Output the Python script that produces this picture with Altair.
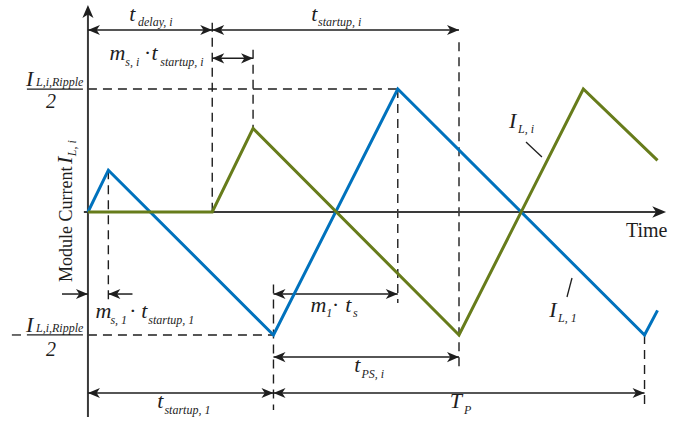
import altair as alt
import pandas as pd

# Normalised units: time in multiples of t_startup,1, current in multiples of I_L,i,Ripple/2
module1_t = [0.0, 0.11, 1.0, 1.67, 3.0, 3.07]
module1_i = [0.0, 0.34, -1.0, 1.0, -1.0, -0.80]
modulei_t = [0.0, 0.67, 0.89, 2.0, 2.67, 3.07]
modulei_i = [0.0, 0.0, 0.68, -1.0, 1.0, 0.42]

# characteristic instants and levels
t_ms1 = 0.11        # m_s,1 * t_startup,1
t_delay = 0.67      # t_delay,i
t_peak_i = 0.89     # t_delay,i + m_s,i * t_startup,i
t_su1 = 1.0         # t_startup,1
t_peak1 = 1.67      # t_startup,1 + m_1 * t_s
t_end_i = 2.0       # t_delay,i + t_startup,i
t_period = 3.0      # t_startup,1 + T_P
ripple = 1.0        # I_L,i,Ripple / 2

BLUE = "#0072BD"
GREEN = "#677C1B"
INK = "#1e1e1e"
AXIS = "#3a3a3a"
SERIF = "Liberation Serif"
BIG = 22
SUB = 12

XS = alt.Scale(domain=[-0.474, 3.272], nice=False, zero=False)
YS = alt.Scale(domain=[-1.724, 1.724], nice=False, zero=False)


def xy(xf, yf):
    return dict(x=alt.X(xf, type="quantitative", scale=XS, axis=None),
                y=alt.Y(yf, type="quantitative", scale=YS, axis=None))


def segments(rows, **mark):
    df = pd.DataFrame(rows, columns=["x0", "x1", "y0", "y1"])
    return alt.Chart(df).mark_rule(**mark).encode(**xy("x0", "y0"), x2="x1:Q", y2="y1:Q")


def wave(ts, vs, color):
    df = pd.DataFrame({"t": ts, "i": vs, "k": range(len(ts))})
    return alt.Chart(df).mark_line(strokeWidth=3, strokeJoin="miter", color=color).encode(
        **xy("t", "i"), order="k:Q")


# dashed guide lines
dashed = [
    (0, t_peak1, ripple, ripple),
    (0, t_su1, -ripple, -ripple),
    (t_ms1, t_ms1, 0.34, -0.73),
    (t_delay, t_delay, 1.54, 0),
    (t_peak_i, t_peak_i, 1.32, 0.68),
    (t_su1, t_su1, -0.59, -1.61),
    (t_peak1, t_peak1, ripple, -0.74),
    (t_end_i, t_end_i, 1.38, -1.26),
    (t_period, t_period, -ripple, -1.59),
]

# dimension arrows with heads on both ends
dims = [
    (0, t_delay, 1.48),
    (t_delay, t_end_i, 1.48),
    (t_delay, t_peak_i, 1.25),
    (t_su1, t_peak1, -0.667),
    (t_su1, t_end_i, -1.18),
    (0, t_su1, -1.472),
    (t_su1, t_period, -1.472),
]

HEAD_R = "M0,0L-2,-0.85L-1.45,0L-2,0.85Z"
HEAD_L = "M0,0L2,-0.85L1.45,0L2,0.85Z"
HEAD_U = "M0,0L-0.85,2L0,1.45L0.85,2Z"

arrow_lines = [(a, b, y, y) for a, b, y in dims]
heads = []
for a, b, y in dims:
    heads.append((a, y, HEAD_L, 144))
    heads.append((b, y, HEAD_R, 144))

# inward pointers for the m_s,1 interval
arrow_lines += [(-0.14, 0, -0.667, -0.667), (t_ms1, 0.24, -0.667, -0.667)]
heads += [(0, -0.667, HEAD_R, 144), (t_ms1, -0.667, HEAD_L, 144)]

# coordinate axes
axes_lines = [(0, 0, -1.667, 1.64), (-0.022, 3.09, 0, 0)]
heads += [(0, 1.683, HEAD_U, 170), (3.116, 0, HEAD_R, 190)]

# fraction bars, minus sign, leader lines
thin_lines = [
    (-0.329, -0.027, ripple, ripple),
    (-0.329, -0.027, -ripple, -ripple),
    (-0.410, -0.361, -ripple, -ripple),
    (2.361, 2.447, 0.569, 0.447),
    (2.609, 2.582, -0.537, -0.691),
]

# text: (text, t, y, fontSize, italic, angle)
labels = [
    ("t", 0.222, 1.553, BIG, True, 0), ("delay, i", 0.270, 1.512, SUB, True, 0),
    ("t", 1.204, 1.553, BIG, True, 0), ("startup, i", 1.240, 1.512, SUB, True, 0),
    ("m", 0.116, 1.236, BIG, True, 0), ("s, i", 0.201, 1.187, SUB, True, 0),
    ("·", 0.305, 1.236, BIG, True, 0), ("t", 0.343, 1.236, BIG, True, 0),
    ("startup, i", 0.390, 1.187, SUB, True, 0),
    ("I", -0.334, 1.024, BIG, True, 0), ("L,i,Ripple", -0.280, 1.024, SUB, True, 0),
    ("2", -0.226, 0.846, 20, True, 0),
    ("I", -0.334, -0.976, BIG, True, 0), ("L,i,Ripple", -0.280, -0.976, SUB, True, 0),
    ("2", -0.226, -1.171, 20, True, 0),
    ("Module Current", -0.086, -0.569, 18, False, 270),
    ("I", -0.086, 0.390, BIG, True, 270), ("L, i", -0.065, 0.453, SUB, True, 270),
    ("Time", 2.900, -0.203, 20, False, 0),
    ("I", 2.270, 0.683, BIG, True, 0), ("L, i", 2.318, 0.642, SUB, True, 0),
    ("I", 2.486, -0.854, BIG, True, 0), ("L, 1", 2.534, -0.894, SUB, True, 0),
    ("m", 0.041, -0.862, BIG, True, 0), ("s, 1", 0.121, -0.911, SUB, True, 0),
    ("·", 0.226, -0.862, BIG, True, 0), ("t", 0.287, -0.862, BIG, True, 0),
    ("startup, 1", 0.325, -0.911, SUB, True, 0),
    ("m", 1.200, -0.813, BIG, True, 0), ("1", 1.285, -0.854, SUB, True, 0),
    ("·", 1.318, -0.813, BIG, True, 0), ("t", 1.387, -0.813, BIG, True, 0),
    ("s", 1.429, -0.854, SUB, True, 0),
    ("t", 1.435, -1.301, BIG, True, 0), ("PS, i", 1.474, -1.350, SUB, True, 0),
    ("t", 0.373, -1.593, BIG, True, 0), ("startup, 1", 0.412, -1.642, SUB, True, 0),
    ("T", 1.950, -1.593, BIG, True, 0), ("P", 2.027, -1.642, SUB, True, 0),
]
lab = pd.DataFrame(labels, columns=["text", "t", "y", "size", "italic", "angle"])


def text_layer(df, style):
    return alt.Chart(df).mark_text(
        align="left", baseline="alphabetic", font=SERIF, fontStyle=style, color=INK
    ).encode(**xy("t", "y"), text="text:N",
             size=alt.Size("size:Q", scale=None),
             angle=alt.Angle("angle:Q", scale=None))


head_df = pd.DataFrame(heads, columns=["t", "y", "shape", "size"])
head_layer = alt.Chart(head_df).mark_point(
    filled=True, opacity=1, strokeWidth=0, color=INK
).encode(**xy("t", "y"), shape=alt.Shape("shape:N", scale=None),
         size=alt.Size("size:Q", scale=None))

chart = alt.layer(
    segments(dashed, color=INK, strokeWidth=1.4, strokeDash=[9, 6]),
    segments(axes_lines, color=AXIS, strokeWidth=2),
    segments(arrow_lines, color=INK, strokeWidth=1.5),
    segments(thin_lines, color=INK, strokeWidth=1.3),
    wave(module1_t, module1_i, BLUE),
    wave(modulei_t, modulei_i, GREEN),
    head_layer,
    text_layer(lab[lab.italic], "italic"),
    text_layer(lab[~lab.italic], "normal"),
).properties(
    width=695, height=424, padding=0,
    autosize=alt.AutoSizeParams(type="none"),
    background="white",
).configure_view(stroke=None)

chart.save("out.html", embed_options={"renderer": "svg", "actions": False})
